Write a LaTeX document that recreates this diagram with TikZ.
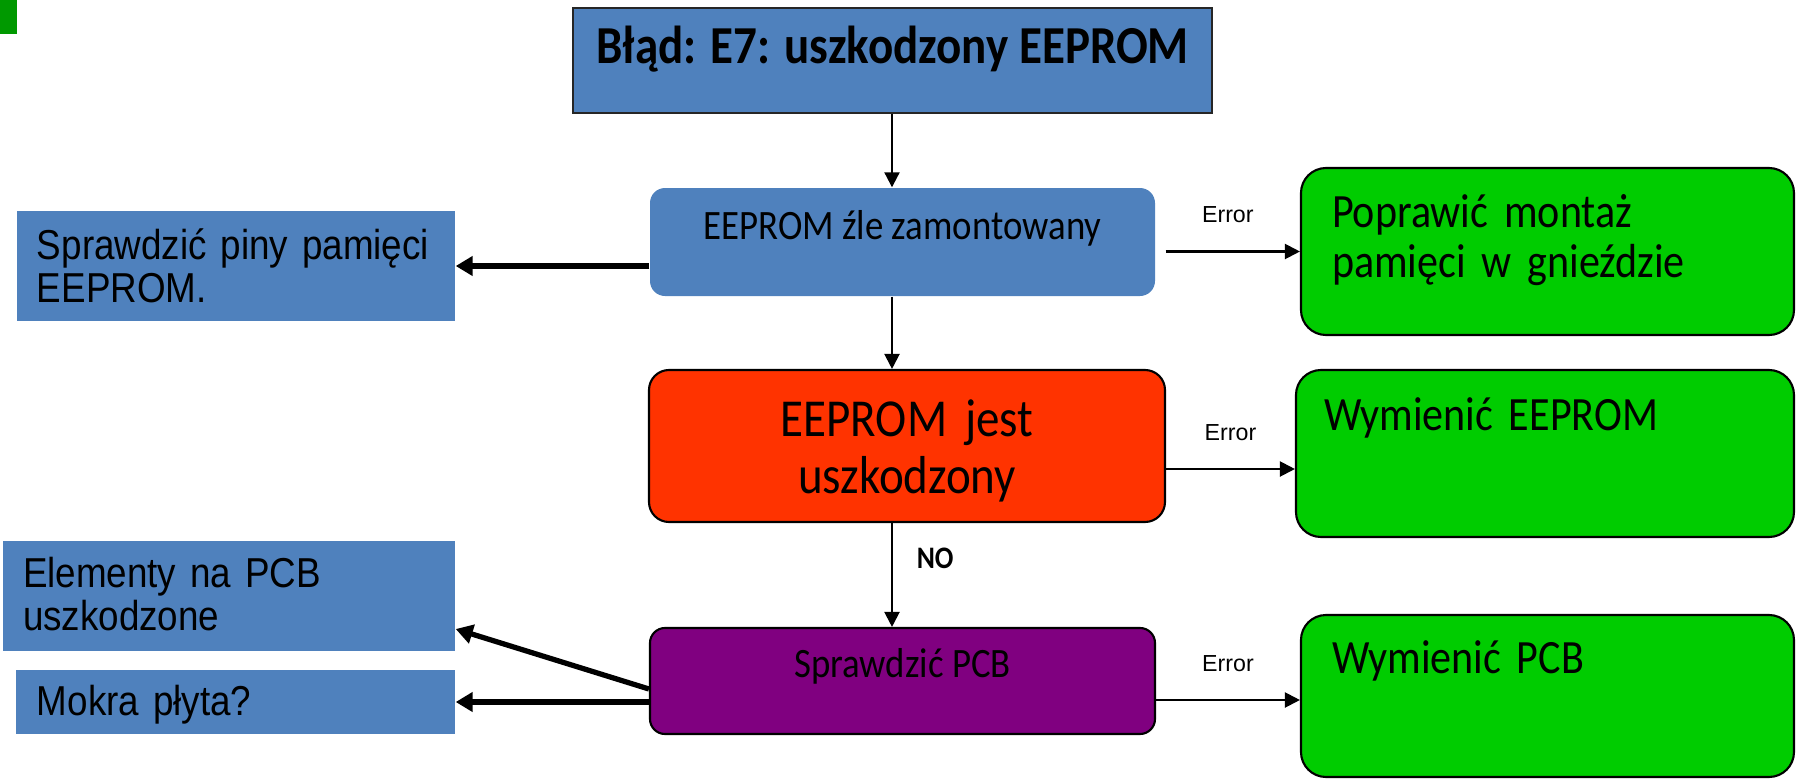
\documentclass[tikz,border=0pt]{standalone}
\usepackage{fontspec}
\setmainfont{Carlito}[FakeStretch=0.88]
\newfontfamily\arialfont{Liberation Sans}[FakeStretch=0.88]
\newfontfamily\smallarial{Liberation Sans}
\usetikzlibrary{arrows.meta, positioning}
\usepackage{xcolor}

\definecolor{eblue}{HTML}{4F81BD}
\definecolor{ered}{HTML}{FF3300}
\definecolor{egreen}{HTML}{00CC00}
\definecolor{epurple}{HTML}{800080}
\definecolor{markgreen}{HTML}{009900}

\begin{document}
\begin{tikzpicture}
[>={Triangle[length=0.15cm, width=0.15cm]}, flow/.style={draw=black, line width=0.6pt, ->},
boldflow/.style={draw=black, line width=1.5pt, -{Triangle[length=0.17cm, width=0.19cm]}}]
% Define styles for boxes and labels
\tikzstyle{block} = [rectangle, inner sep=0pt, align=center]
\tikzstyle{header} = [block, fill=eblue, draw=black!85, line width=0.5pt, font=\bfseries\fontsize{15.2}{17}\selectfont]
\tikzstyle{check} = [block, rounded corners=0.15cm, fill=eblue, font=\fontsize{11.9}{13}\selectfont]
\tikzstyle{fault} = [block, rounded corners=0.2cm, draw=black, line width=0.6pt, fill=ered, font=\fontsize{15.2}{16.5}\selectfont]
\tikzstyle{repair} = [rectangle, rounded corners=0.25cm, draw=black, line width=0.6pt, fill=egreen, align=left, inner ysep=0pt, font=\fontsize{13.6}{14.5}\selectfont]
\tikzstyle{hint} = [rectangle, fill=eblue, align=left, inner ysep=0pt, font=\arialfont\fontsize{11.9}{12.4}\selectfont]
\tikzstyle{errlabel} = [font=\smallarial\fontsize{6.6}{8}\selectfont]

\useasboundingbox (0,0) rectangle (17.97,-7.79);
\fill [markgreen] (0,0) rectangle (0.17,-0.34);

% Nodes placement
\node [header, minimum width=6.39cm, minimum height=1.05cm, text height=0.06cm, text depth=0pt] (err) at (8.925,-0.605) {Błąd: E7: uszkodzony EEPROM};
\node [check, minimum width=5.05cm, minimum height=1.08cm, text height=0pt, text depth=0.06cm] (mount) at (9.025,-2.42) {EEPROM źle zamontowany};
\node [fault, text width=5.16cm, minimum height=1.52cm, text height=0pt, text depth=0.20cm] (broken) at (9.07,-4.46) {EEPROM jest\\uszkodzony};
\node [check, draw=black, line width=0.6pt, fill=epurple, minimum width=5.05cm, minimum height=1.06cm, text height=0pt, text depth=0.08cm] (pcb) at (9.025,-6.81) {Sprawdzić PCB};

\node [hint, text width=3.98cm, inner xsep=0.20cm, minimum height=1.10cm, text height=0pt, text depth=0.14cm] (pins) at (2.36,-2.66) {Sprawdzić piny pamięci\\EEPROM.};
\node [hint, text width=4.12cm, inner xsep=0.20cm, minimum height=1.10cm, text height=0pt, text depth=0.18cm] (parts) at (2.29,-5.96) {Elementy na PCB\\uszkodzone};
\node [hint, text width=3.97cm, inner xsep=0.21cm, minimum height=0.64cm, text height=0.26cm, text depth=0pt] (wet) at (2.355,-7.02) {Mokra płyta?};

\node [repair, text width=4.31cm, inner xsep=0.31cm, minimum height=1.67cm, text height=0pt, text depth=0.49cm] (reseat) at (15.475,-2.515) {Poprawić montaż\\pamięci w gnieździe};
\node [repair, text width=4.42cm, inner xsep=0.28cm, minimum height=1.67cm, text height=0pt, text depth=0.47cm] (newrom) at (15.45,-4.535) {Wymienić EEPROM};
\node [repair, text width=4.31cm, inner xsep=0.31cm, minimum height=1.62cm, text height=0pt, text depth=0.46cm] (newpcb) at (15.475,-6.96) {Wymienić PCB};

% Draw edges
\coordinate (axis) at (8.92,0);
\draw [flow] (err.south -| axis) -- (mount.north -| axis);
\draw [flow] (mount.south -| axis) -- (broken.north -| axis);
\draw [flow] (broken.south -| axis) -- node[pos=0.34, right=0.12cm, font=\bfseries\fontsize{8.9}{9}\selectfont] {NO} (pcb.north -| axis);

\draw [flow, shorten <=0.1cm] (mount.east |- reseat.west) -- node[errlabel, above=0.16cm] {Error} (reseat.west);
\draw [flow] ([yshift=-0.23cm]broken.east) -- node[errlabel, above=0.16cm] {Error} ([yshift=-0.23cm]broken.east -| newrom.west);
\draw [flow] ([yshift=-0.19cm]pcb.east) -- node[errlabel, above=0.16cm] {Error} ([yshift=-0.19cm]pcb.east -| newpcb.west);

% Thick arrows to the left
\draw [boldflow] (pins.east -| mount.west) -- (pins.east);
\draw [boldflow] ([yshift=-0.08cm]pcb.west) -- ([yshift=-0.33cm]parts.east);
\draw [boldflow] (wet.east -| pcb.west) -- (wet.east);
\end{tikzpicture}
\end{document}
